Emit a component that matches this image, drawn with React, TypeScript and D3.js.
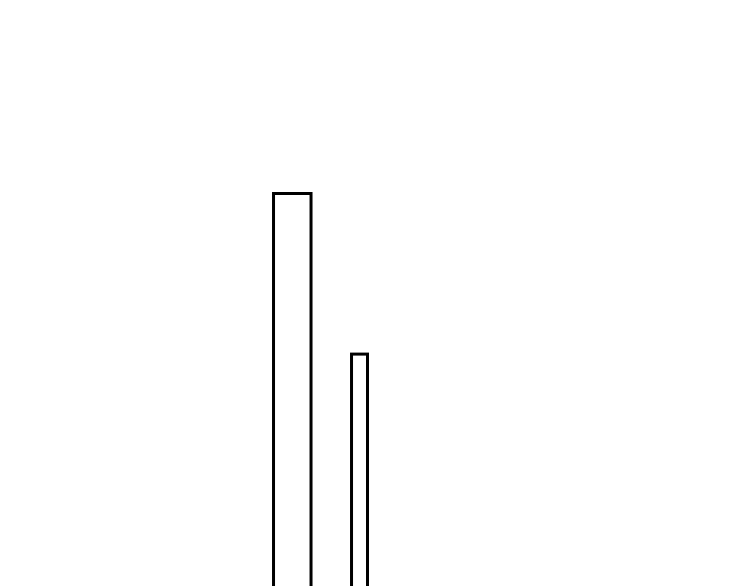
import * as d3 from "d3";

// bar extents along x (data units) and bar values
const barStarts = [36.47, 46.87];
const barEnds = [41.47, 49.0];
const barValues = [50, 30];

const width = 750;
const height = 586;

export default function App() {
  const x = d3.scaleLinear().domain([0, 100]).range([0, width]);
  // baseline sits just below the visible area
  const y = d3.scaleLinear().domain([0, 50]).range([595, 193.5]);

  return (
    <svg
      width={width}
      height={height}
      style={{ position: "fixed", left: 0, top: 0, background: "#fff", overflow: "hidden" }}
    >
      {barValues.map((v, i) => (
        <rect
          key={i}
          x={x(barStarts[i])}
          y={y(v)}
          width={x(barEnds[i]) - x(barStarts[i])}
          height={y(0) - y(v)}
          fill="#fff"
          stroke="#000"
          strokeWidth={3}
        />
      ))}
    </svg>
  );
}
